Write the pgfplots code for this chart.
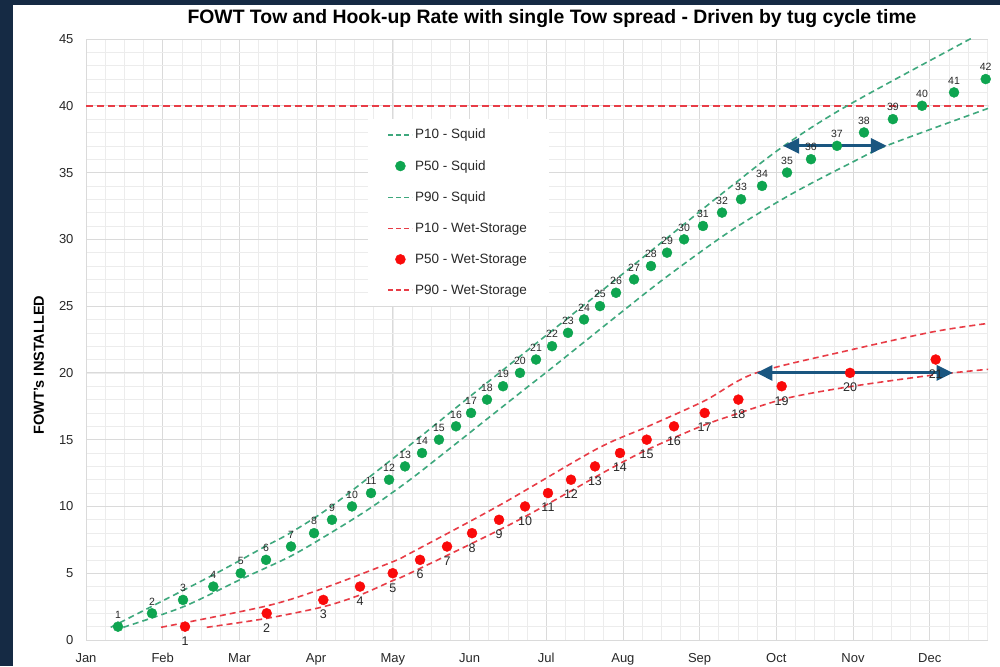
\documentclass[border=0pt]{standalone}
\usepackage{fontspec}
\setmainfont{Liberation Sans}
\usepackage{pgfplots}
\pgfplotsset{compat=1.18}
\usetikzlibrary{arrows.meta}
\definecolor{navy}{RGB}{21,42,68}
\definecolor{gdot}{RGB}{14,165,80}
\definecolor{gline}{RGB}{62,168,125}
\definecolor{rdot}{RGB}{250,10,10}
\definecolor{rline}{RGB}{232,60,70}
\definecolor{arrowc}{RGB}{26,86,128}
\definecolor{majgrid}{RGB}{218,218,218}
\definecolor{mingrid}{RGB}{236,236,236}
\definecolor{txt}{RGB}{40,40,40}
\begin{document}
\begin{tikzpicture}
\fill[navy] (0pt,0pt) rectangle (1000pt,666pt);
\fill[white] (13pt,0pt) rectangle (1000pt,661pt);
\path[use as bounding box] (0pt,0pt) rectangle (1000pt,666pt);
\node[font=\fontsize{19.4}{19.4}\selectfont\bfseries, text=black] at (552pt,647pt) {FOWT Tow and Hook-up Rate with single Tow spread - Driven by tug cycle time};
\node[font=\fontsize{14.5}{14.5}\selectfont\bfseries, text=black, rotate=90] at (39pt,301pt) {FOWT's INSTALLED};
\begin{axis}[
  at={(86pt,26pt)}, anchor=south west,
  width=902pt, height=601pt, scale only axis,
  xmin=0, xmax=11.76, ymin=0, ymax=45,
  axis lines=left, axis line style={draw=majgrid, -},
  xtick={0,...,11},
  xticklabels={Jan,Feb,Mar,Apr,May,Jun,Jul,Aug,Sep,Oct,Nov,Dec},
  minor xtick={0,0.25,...,11.75},
  ytick={0,5,...,45},
  minor ytick={0,...,45},
  grid=both,
  major grid style={draw=majgrid, line width=0.8pt},
  minor grid style={draw=mingrid, line width=0.6pt},
  major tick length=0pt, minor tick length=0pt,
  tick label style={font=\fontsize{13}{13}\selectfont, text=txt},
  /pgf/number format/assume math mode=true,
  xticklabel style={yshift=-10pt},
  yticklabel style={xshift=-9pt},
  legend style={at={(0.312,0.867)}, anchor=north west, draw=none, fill=white,
     font=\fontsize{13.5}{13.5}\selectfont, text=txt, row sep=16pt,
     inner xsep=20pt, inner ysep=8pt},
  legend cell align=left,
  clip=true,
]
% target line at 40
\addplot[rline, line width=1.7pt, dash pattern=on 7pt off 4pt, forget plot] coordinates {(0,40)(11.76,40)};

% P10 Squid
\addplot[gline, line width=1.6pt, dash pattern=on 6pt off 4pt, smooth, tension=0.5,
  legend image code/.code={\draw[gline, line width=1.6pt, dash pattern=on 5pt off 3pt] (0pt,0pt) -- (24pt,0pt);}]
coordinates {(0.322,0.95)(1.656,4.87)(2.347,7.04)(2.673,8.05)(3.220,10.1)(4.224,14.6)(5.020,18.3)(5.867,22.2)(6.714,26.1)(7.575,30.1)(8.396,33.9)(9.1,37.0)(9.918,39.98)(11.5,44.92)(11.76,45.7)};
\addlegendentry{P10 - Squid}

% P50 Squid
\addplot[only marks, mark=*, mark size=5pt, gdot, mark options={draw=gdot, fill=gdot},
  nodes near coords, point meta=y,
  nodes near coords style={anchor=south, yshift=7pt, inner sep=1pt, font=\fontsize{10.5}{10.5}\selectfont, text=txt},
  legend image code/.code={\fill[gdot] (12pt,0pt) circle (5pt);}]
coordinates {(0.417,1)(0.86,2)(1.265,3)(1.66,4)(2.017,5)(2.347,6)(2.673,7)(2.973,8)(3.207,9)(3.468,10)(3.716,11)(3.951,12)(4.159,13)(4.381,14)(4.602,15)(4.824,16)(5.02,17)(5.228,18)(5.437,19)(5.658,20)(5.867,21)(6.076,22)(6.284,23)(6.493,24)(6.701,25)(6.91,26)(7.145,27)(7.366,28)(7.575,29)(7.797,30)(8.044,31)(8.292,32)(8.54,33)(8.814,34)(9.14,35)(9.452,36)(9.791,37)(10.143,38)(10.52,39)(10.9,40)(11.317,41)(11.73,42)};
\addlegendentry{P50 - Squid}

% P90 Squid
\addplot[gline, line width=1.6pt, dash pattern=on 6pt off 4pt, smooth, tension=0.5,
  legend image code/.code={\draw[gline, line width=1.6pt, dash pattern=on 5pt off 3pt] (0pt,0pt) -- (24pt,0pt);}]
coordinates {(0.486,0.95)(1.269,2.49)(2.017,4.54)(2.673,6.29)(3.216,8.11)(3.712,9.9)(4.224,12.0)(4.658,13.95)(5.658,18.5)(6.080,20.4)(6.927,24.3)(7.571,27.2)(8.396,30.6)(9.2,33.4)(10.048,35.94)(10.460,37.06)(11.764,39.81)};
\addlegendentry{P90 - Squid}

% P10 Wet-Storage
\addplot[rline, line width=1.6pt, dash pattern=on 6pt off 4pt, smooth, tension=0.5,
  legend image code/.code={\draw[rline, line width=1.6pt, dash pattern=on 5pt off 3pt] (0pt,0pt) -- (24pt,0pt);}]
coordinates {(0.978,0.95)(2.356,2.55)(3.094,3.87)(3.999,5.86)(4.224,6.49)(5.398,10.11)(6.658,14.3)(7.310,15.95)(8.061,17.9)(8.722,19.97)(9.961,21.71)(11.047,23.08)(11.764,23.71)};
\addlegendentry{P10 - Wet-Storage}

% P50 Wet-Storage
\addplot[only marks, mark=*, mark size=5pt, rdot, mark options={draw=rdot, fill=rdot},
  nodes near coords, point meta=y,
  nodes near coords style={anchor=north, yshift=-9pt, inner sep=1pt, font=\fontsize{12.5}{12.5}\selectfont, text=txt},
  legend image code/.code={\fill[rdot] (12pt,0pt) circle (5pt);}]
coordinates {(1.291,1)(2.356,2)(3.094,3)(3.572,4)(3.999,5)(4.355,6)(4.707,7)(5.033,8)(5.385,9)(5.724,10)(6.023,11)(6.323,12)(6.636,13)(6.962,14)(7.310,15)(7.666,16)(8.066,17)(8.505,18)(9.07,19)(9.961,20)(11.078,21)};
\addlegendentry{P50 - Wet-Storage}

% P90 Wet-Storage
\addplot[rline, line width=1.6pt, dash pattern=on 6pt off 4pt, smooth, tension=0.5,
  legend image code/.code={\draw[rline, line width=1.6pt, dash pattern=on 5pt off 3pt] (0pt,0pt) -- (24pt,0pt);}]
coordinates {(1.574,0.95)(2.356,1.62)(3.094,2.49)(3.572,3.37)(3.999,4.45)(4.224,5.0)(5.593,8.84)(6.806,12.73)(7.310,14.23)(8.005,15.97)(8.440,16.85)(9.136,18.10)(9.961,18.97)(11.047,19.84)(11.764,20.27)};
\addlegendentry{P90 - Wet-Storage}

% range arrows
\draw[arrowc, line width=3pt, {Triangle[length=16pt,width=15pt]}-{Triangle[length=16pt,width=15pt]}] (axis cs:9.09,37) -- (axis cs:10.44,37);
\draw[arrowc, line width=3pt, {Triangle[length=16pt,width=15pt]}-{Triangle[length=16pt,width=15pt]}] (axis cs:8.74,20) -- (axis cs:11.30,20);
\end{axis}
\end{tikzpicture}
\end{document}
